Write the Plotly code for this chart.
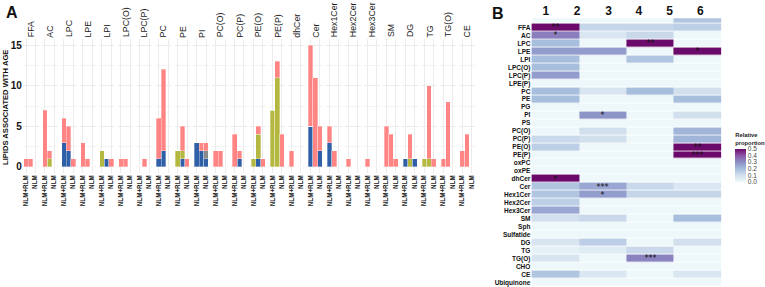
import plotly.graph_objects as go

W, H = 765, 287

# ---------------- Panel A data ----------------
classes = ["FFA", "AC", "LPC", "LPE", "LPI", "LPC(O)", "LPC(P)", "PC", "PE", "PI",
           "PC(O)", "PC(P)", "PE(O)", "PE(P)", "dhCer", "Cer", "Hex1Cer", "Hex2Cer",
           "Hex3Cer", "SM", "DG", "TG", "TG(O)", "CE"]
groups = ["NLM+RLM", "RLM", "NLM"]

blue_counts = [[0, 0, 0], [0, 0, 0], [3, 2, 0], [0, 0, 0], [0, 1, 0], [0, 0, 0],
               [0, 0, 0], [1, 2, 0], [0, 1, 0], [3, 2, 1], [0, 0, 0], [0, 1, 0],
               [0, 1, 0], [0, 0, 0], [0, 0, 0], [5, 0, 2], [3, 0, 0], [0, 0, 0],
               [0, 0, 0], [0, 0, 0], [1, 0, 1], [0, 0, 0], [0, 0, 0], [0, 0, 0]]
gray_counts = [[0, 0, 0]] * 9 + [[0, 0, 1]] + [[0, 0, 0]] * 14
olive_counts = [[0, 0, 0], [0, 1, 0], [0, 0, 0], [0, 0, 0], [2, 0, 0], [0, 0, 0],
                [0, 0, 0], [0, 0, 0], [2, 1, 0], [0, 0, 0], [0, 0, 0], [0, 0, 0],
                [1, 3, 0], [7, 11, 0], [0, 0, 0], [0, 0, 0], [0, 0, 0], [0, 0, 0],
                [0, 0, 0], [0, 0, 0], [0, 1, 0], [1, 1, 0], [0, 0, 0], [0, 0, 0]]
red_counts = [[1, 1, 0], [7, 1, 0], [3, 3, 1], [3, 1, 0], [0, 0, 1], [1, 1, 0],
              [0, 1, 0], [5, 10, 0], [0, 3, 1], [0, 1, 1], [2, 2, 0], [4, 1, 0],
              [0, 1, 1], [0, 2, 4], [2, 0, 0], [10, 11, 3], [2, 2, 0], [1, 0, 0],
              [1, 0, 0], [5, 4, 1], [0, 3, 0], [0, 9, 1], [1, 8, 0], [2, 4, 0]]

y_ticks = [0, 5, 10, 15]

# ---------------- Panel B data ----------------
heat_labels = ["FFA", "AC", "LPC", "LPE", "LPI", "LPC(O)", "LPC(P)", "LPE(P)", "PC", "PE",
               "PG", "PI", "PS", "PC(O)", "PC(P)", "PE(O)", "PE(P)", "oxPC", "oxPE",
               "dhCer", "Cer", "Hex1Cer", "Hex2Cer", "Hex3Cer", "SM", "Sph", "Sulfatide",
               "DG", "TG", "TG(O)", "CHO", "CE", "Ubiquinone"]
heat_top_strip = [0, 0, 0, 0.18]
heat_values = [
    [0.50, 0.13, 0.13, 0.15],  # FFA
    [0.33, 0.07, 0.12, 0.00],  # AC
    [0.20, 0.00, 0.50, 0.00],  # LPC
    [0.27, 0.27, 0.00, 0.50],  # LPE
    [0.20, 0.00, 0.18, 0.00],  # LPI
    [0.20, 0.00, 0.00, 0.00],  # LPC(O)
    [0.27, 0.00, 0.00, 0.00],  # LPC(P)
    [0.00, 0.00, 0.00, 0.00],  # LPE(P)
    [0.20, 0.08, 0.20, 0.10],  # PC
    [0.20, 0.00, 0.00, 0.20],  # PE
    [0.00, 0.00, 0.00, 0.00],  # PG
    [0.00, 0.29, 0.00, 0.10],  # PI
    [0.00, 0.00, 0.00, 0.00],  # PS
    [0.00, 0.10, 0.00, 0.22],  # PC(O)
    [0.12, 0.10, 0.00, 0.22],  # PC(P)
    [0.15, 0.00, 0.00, 0.50],  # PE(O)
    [0.00, 0.00, 0.00, 0.50],  # PE(P)
    [0.00, 0.00, 0.00, 0.00],  # oxPC
    [0.00, 0.00, 0.00, 0.00],  # oxPE
    [0.50, 0.00, 0.00, 0.00],  # dhCer
    [0.18, 0.25, 0.12, 0.07],  # Cer
    [0.18, 0.27, 0.13, 0.13],  # Hex1Cer
    [0.15, 0.00, 0.00, 0.00],  # Hex2Cer
    [0.25, 0.00, 0.00, 0.00],  # Hex3Cer
    [0.10, 0.12, 0.00, 0.20],  # SM
    [0.00, 0.00, 0.00, 0.00],  # Sph
    [0.00, 0.00, 0.00, 0.00],  # Sulfatide
    [0.08, 0.15, 0.00, 0.10],  # DG
    [0.03, 0.05, 0.12, 0.00],  # TG
    [0.08, 0.00, 0.32, 0.00],  # TG(O)
    [0.00, 0.00, 0.00, 0.00],  # CHO
    [0.18, 0.07, 0.00, 0.07],  # CE
    [0.00, 0.00, 0.00, 0.00],  # Ubiquinone
]
heat_stars = [["", "", "", ""] for _ in heat_labels]
heat_stars[0][0] = "**"
heat_stars[1][0] = "*"
heat_stars[2][2] = "**"
heat_stars[3][3] = "*"
heat_stars[11][1] = "*"
heat_stars[15][3] = "**"
heat_stars[16][3] = "***"
heat_stars[19][0] = "*"
heat_stars[20][1] = "***"
heat_stars[21][1] = "*"
heat_stars[29][2] = "***"
col_labels = ["1", "2", "3", "4", "5", "6"]
cbar_ticks = [0.0, 0.1, 0.2, 0.3, 0.4, 0.5]

# ---------------- helpers ----------------
def px(x):
    return x / W


def py(y):
    return 1 - y / H


FONT = "Liberation Sans, Arial, sans-serif"
colors = {"blue": "#2F5FA7", "gray": "#8A8A8A", "olive": "#B5B840", "red": "#FF8484"}
series = [("blue", blue_counts), ("gray", gray_counts), ("olive", olive_counts), ("red", red_counts)]

fig = go.Figure()
layout = {}
annotations = []

facet_left0 = 23.0
facet_step = 19.17
facet_w = 16.0
ydom = [py(173), py(39)]

for i, cls in enumerate(classes):
    n = i + 1
    xa = "x" if n == 1 else f"x{n}"
    ya = "y" if n == 1 else f"y{n}"
    for name, data in series:
        fig.add_trace(go.Bar(
            x=groups, y=data[i], xaxis=xa, yaxis=ya, name=name,
            marker=dict(color=colors[name], line=dict(color="rgba(255,255,255,0.55)", width=0.6)),
            width=1.0, showlegend=False, hoverinfo="skip"))
    l = facet_left0 + i * facet_step
    layout["xaxis" if n == 1 else f"xaxis{n}"] = dict(
        domain=[px(l), px(l + facet_w)], anchor=ya, type="category",
        categoryorder="array", categoryarray=groups, range=[-0.7, 2.7],
        showgrid=True, gridcolor="#EBEBEB", gridwidth=1, zeroline=False, showline=False,
        ticks="", tickangle=-90, tickfont=dict(size=6.3, family=FONT, color="#222", weight="bold"),
        fixedrange=True)
    layout["yaxis" if n == 1 else f"yaxis{n}"] = dict(
        domain=ydom, anchor=xa, range=[-0.75, 15.75], tickvals=y_ticks,
        showticklabels=(n == 1), showgrid=True, gridcolor="#EBEBEB", gridwidth=1,
        minor=dict(dtick=2.5, tick0=0, showgrid=True, gridcolor="#F3F3F3", gridwidth=1),
        zeroline=False, showline=False, ticks="",
        tickfont=dict(size=10, family=FONT, color="#111", weight="bold"))
    annotations.append(dict(
        x=px(l + facet_w / 2), y=py(38.5), xref="paper", yref="paper", text=cls,
        textangle=-90, showarrow=False, xanchor="center", yanchor="bottom",
        borderpad=0, font=dict(size=8.8, family=FONT, color="#1A1A1A")))

# heatmap
z = [heat_top_strip] + heat_values
text = [["", "", "", ""]] + heat_stars
yrows = [-1] + list(range(len(heat_labels)))
colorscale = [[0.0, "#EEF8FA"], [0.2, "#D2E0EE"], [0.4, "#A7BEDD"],
              [0.6, "#8A8FC6"], [0.8, "#8C55A6"], [1.0, "#6B0A6B"]]
fig.add_trace(go.Heatmap(
    z=z, x=[0.5, 1.5, 2.5, 3.5], y=yrows, text=text, texttemplate="%{text}",
    textfont=dict(size=8, color="#111", family="DejaVu Sans"),
    colorscale=colorscale, zmin=0, zmax=0.5, ygap=0.8, xaxis="x25", yaxis="y25",
    hoverinfo="skip",
    colorbar=dict(x=px(743), xanchor="left", y=py(156), yanchor="middle",
                  len=52 / H, lenmode="fraction", thickness=11, thicknessmode="pixels",
                  outlinewidth=0, tickvals=cbar_ticks,
                  ticktext=[f"{v:.1f}" for v in cbar_ticks], ticks="",
                  tickfont=dict(size=6.5, family=FONT, color="#444"),
                  title=dict(text="Relative<br>proportion", side="top",
                             font=dict(size=5.8, family=FONT, color="#222", weight="bold")),
                  xpad=0, ypad=0)))
hx0, hx1 = 537, 729
col_pos_px = [551.5, 583.3, 615.0, 645.7, 676.7, 707.7]
layout["xaxis25"] = dict(domain=[px(hx0), px(hx1)], anchor="y25", range=[0, 4], side="top",
                         tickvals=[(p - hx0) / 48.0 for p in col_pos_px], ticktext=col_labels,
                         showgrid=False, zeroline=False, showline=False, ticks="",
                         tickfont=dict(size=12, family=FONT, color="#111", weight="bold"))
layout["yaxis25"] = dict(domain=[py(285.8), py(18.3)], anchor="x25", range=[32.41, -1.15],
                         tickvals=list(range(len(heat_labels))), ticktext=heat_labels,
                         showgrid=False, zeroline=False, showline=False, ticks="",
                         tickfont=dict(size=6.5, family=FONT, color="#111", weight="bold"))

annotations += [
    dict(x=px(5), y=py(107), xref="paper", yref="paper", text="LIPIDS ASSOCIATED WITH AGE",
         textangle=-90, showarrow=False, xanchor="center", yanchor="middle",
         font=dict(size=7.6, family=FONT, color="#111", weight="bold")),
    dict(x=px(4), y=py(2), xref="paper", yref="paper", text="A", showarrow=False,
         xanchor="left", yanchor="top", font=dict(size=16, family=FONT, color="#111", weight="bold")),
    dict(x=px(495), y=py(3), xref="paper", yref="paper", text="B", showarrow=False,
         xanchor="left", yanchor="top", font=dict(size=16, family=FONT, color="#111", weight="bold")),
]

fig.update_layout(width=W, height=H, margin=dict(l=0, r=0, t=0, b=0),
                  paper_bgcolor="white", plot_bgcolor="white", barmode="stack", bargap=0,
                  showlegend=False, annotations=annotations, font=dict(family=FONT),
                  hovermode=False, **layout)

fig.write_html("out.html", config={"displayModeBar": False, "staticPlot": True},
               post_script="document.body.style.margin='0px';")
